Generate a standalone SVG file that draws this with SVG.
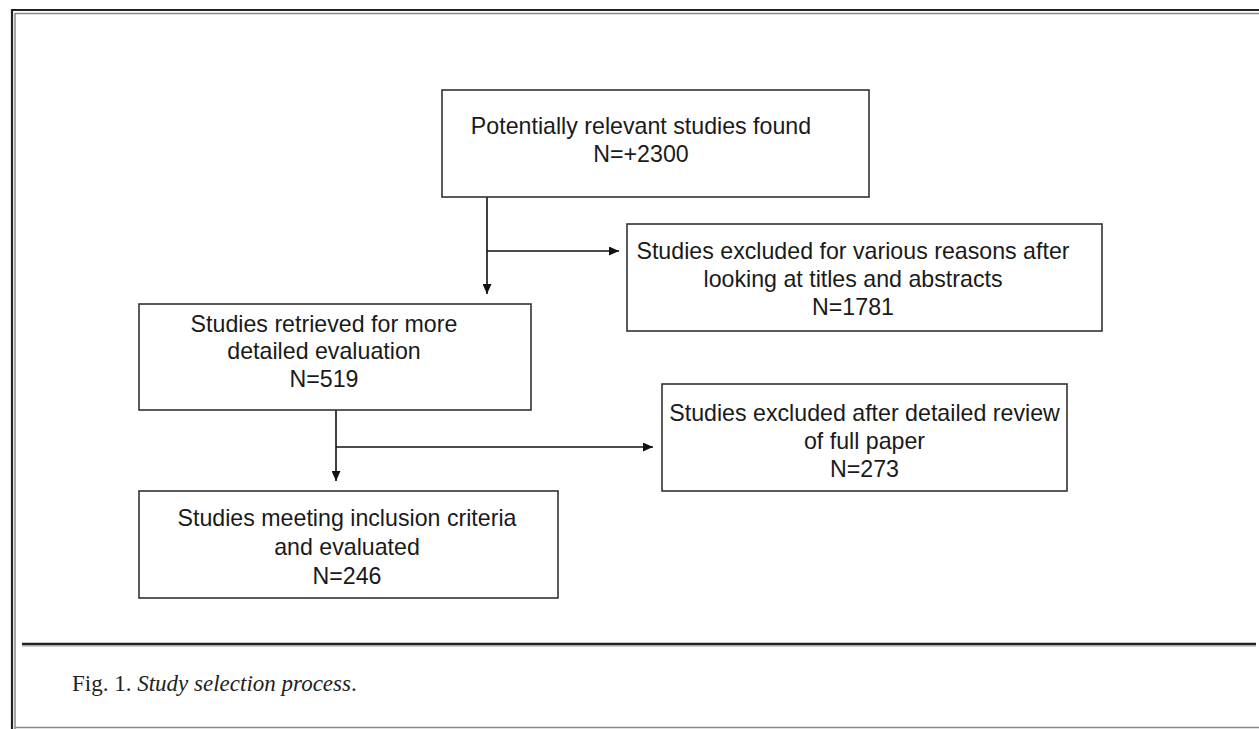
<svg xmlns="http://www.w3.org/2000/svg" width="1259" height="729" viewBox="0 0 1259 729">
<style>
.box{fill:#fff;stroke:#333;stroke-width:1.6}
.t{font-family:"Liberation Sans",Arial,sans-serif;font-size:23.2px;fill:#1a1a1a;text-anchor:middle}
.c{stroke:#111;stroke-width:1.6;fill:none}
.cap{font-family:"Liberation Serif","Times New Roman",serif;font-size:23px;fill:#222}
</style>
<defs>
<marker id="ah" viewBox="0 0 10 9" refX="10" refY="4.5" markerWidth="10" markerHeight="9" orient="auto" markerUnits="userSpaceOnUse">
<path d="M0,0 L10,4.5 L0,9 Z" fill="#111"/>
</marker>
</defs>
<rect width="1259" height="729" fill="#fff"/>
<g id="frame">
<line x1="11" y1="10" x2="1259" y2="10" stroke="#222" stroke-width="2.2"/>
<line x1="12" y1="9" x2="12" y2="729" stroke="#222" stroke-width="2.2"/>
<line x1="15" y1="13.5" x2="1259" y2="13.5" stroke="#888" stroke-width="1.5"/>
<line x1="15" y1="13" x2="15" y2="729" stroke="#888" stroke-width="1.5"/>
<line x1="15" y1="727.5" x2="1259" y2="727.5" stroke="#888" stroke-width="1.5"/>
<line x1="22" y1="644" x2="1256" y2="644" stroke="#222" stroke-width="2.6"/>
<line x1="22" y1="646" x2="1256" y2="646" stroke="#999" stroke-width="1"/>
</g>
<g id="connectors">
<line class="c" x1="487" y1="197" x2="487" y2="294" marker-end="url(#ah)"/>
<line class="c" x1="487" y1="251" x2="619" y2="251" marker-end="url(#ah)"/>
<line class="c" x1="336" y1="410" x2="336" y2="481" marker-end="url(#ah)"/>
<line class="c" x1="336" y1="447" x2="653" y2="447" marker-end="url(#ah)"/>
</g>
<g id="n1">
<rect class="box" x="442" y="90" width="427" height="107"/>
<text class="t" x="641" y="134">Potentially relevant studies found</text>
<text class="t" x="641" y="162">N=+2300</text>
</g>
<g id="n2">
<rect class="box" x="627" y="224" width="475" height="107"/>
<text class="t" x="853" y="259">Studies excluded for various reasons after</text>
<text class="t" x="853" y="287">looking at titles and abstracts</text>
<text class="t" x="853" y="315">N=1781</text>
</g>
<g id="n3">
<rect class="box" x="139" y="304" width="392" height="106"/>
<text class="t" x="324" y="332">Studies retrieved for more</text>
<text class="t" x="324" y="359">detailed evaluation</text>
<text class="t" x="324" y="387">N=519</text>
</g>
<g id="n4">
<rect class="box" x="662" y="384" width="405" height="107"/>
<text class="t" x="864.5" y="421">Studies excluded after detailed review</text>
<text class="t" x="864.5" y="449">of full paper</text>
<text class="t" x="864.5" y="477">N=273</text>
</g>
<g id="n5">
<rect class="box" x="139" y="491" width="419" height="107"/>
<text class="t" x="347" y="526">Studies meeting inclusion criteria</text>
<text class="t" x="347" y="555">and evaluated</text>
<text class="t" x="347" y="584">N=246</text>
</g>
<g id="caption">
<text class="cap" x="72" y="691">Fig. 1. <tspan font-style="italic">Study selection process</tspan>.</text>
</g>
</svg>
